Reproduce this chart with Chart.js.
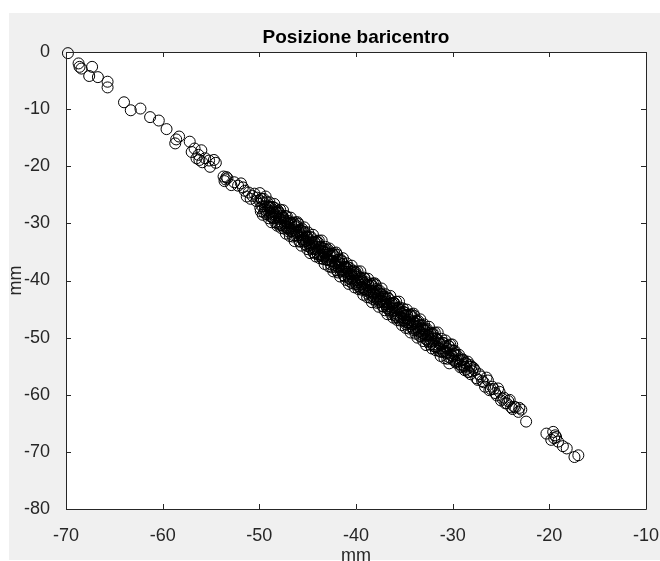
<!DOCTYPE html>
<html>
<head>
<meta charset="utf-8">
<script src="https://cdn.jsdelivr.net/npm/chart.js@4"></script>
<style>
  html, body { margin: 0; padding: 0; background: #ffffff; }
  #wrap { width: 660px; height: 561px; }
</style>
</head>
<body>
<div id="wrap"><canvas id="baricentro" width="660" height="561"></canvas></div>
<script>
// tick values
const xTicks = [-70, -60, -50, -40, -30, -20, -10];
const yTicks = [0, -10, -20, -30, -40, -50, -60, -70, -80];

// sparse start of the trajectory
const headX = [-69.8, -68.7, -68.6, -68.4, -67.3, -67.6, -66.7, -65.7, -65.7, -64.0, -63.3, -62.3, -61.3, -60.4, -59.6,
  -58.6, -58.7, -58.3, -57.2, -57.0, -56.7, -56.3, -56.0, -56.5, -55.6, -55.2, -54.7, -55.1, -54.5, -56.2, -55.9,
  -53.7, -53.5, -53.4, -53.6, -53.3,
  -52.9, -52.6, -52.2, -51.9, -51.7, -51.5, -51.3, -51.1, -50.9, -50.7, -50.5, -50.3, -50.2];
const headY = [-0.2, -2.0, -2.6, -2.9, -2.6, -4.2, -4.4, -5.2, -6.2, -8.8, -10.2, -9.9, -11.4, -12.0, -13.5,
  -15.3, -16.0, -14.8, -15.7, -17.5, -16.9, -18.0, -17.2, -18.6, -18.6, -19.0, -18.9, -20.1, -19.4, -18.9, -19.3,
  -21.8, -22.3, -21.9, -22.6, -22.1,
  -23.3, -22.8, -23.4, -23.0, -23.7, -24.3, -25.3, -24.6, -25.7, -25.2, -24.8, -26.1, -25.5];

// dense central band, first pass
const bandX = [
  -50.0, -49.9, -49.8, -49.7, -49.6, -49.5, -49.4, -49.3, -49.2, -49.1,
  -49.0, -48.9, -48.8, -48.7, -48.6, -48.5, -48.4, -48.3, -48.2, -48.1,
  -48.0, -47.9, -47.8, -47.7, -47.6, -47.5, -47.4, -47.3, -47.2, -47.1,
  -47.0, -46.9, -46.8, -46.7, -46.6, -46.5, -46.4, -46.3, -46.2, -46.1,
  -46.0, -45.9, -45.8, -45.7, -45.6, -45.5, -45.4, -45.3, -45.2, -45.1,
  -45.0, -44.9, -44.8, -44.7, -44.6, -44.5, -44.4, -44.3, -44.2, -44.1,
  -44.0, -43.9, -43.8, -43.7, -43.6, -43.5, -43.4, -43.3, -43.2, -43.1,
  -43.0, -42.9, -42.8, -42.7, -42.6, -42.5, -42.4, -42.3, -42.2, -42.1,
  -42.0, -41.9, -41.8, -41.7, -41.6, -41.5, -41.4, -41.3, -41.2, -41.1,
  -41.0, -40.9, -40.8, -40.7, -40.6, -40.5, -40.4, -40.3, -40.2, -40.1,
  -40.0, -39.9, -39.8, -39.7, -39.6, -39.5, -39.4, -39.3, -39.2, -39.1,
  -39.0, -38.9, -38.8, -38.7, -38.6, -38.5, -38.4, -38.3, -38.2, -38.1,
  -38.0, -37.9, -37.8, -37.7, -37.6, -37.5, -37.4, -37.3, -37.2, -37.1,
  -37.0, -36.9, -36.8, -36.7, -36.6, -36.5, -36.4, -36.3, -36.2, -36.1,
  -36.0, -35.9, -35.8, -35.7, -35.6, -35.5, -35.4, -35.3, -35.2, -35.1,
  -35.0, -34.9, -34.8, -34.7, -34.6, -34.5, -34.4, -34.3, -34.2, -34.1,
  -34.0, -33.9, -33.8, -33.7, -33.6, -33.5, -33.4, -33.3, -33.2, -33.1,
  -33.0, -32.9, -32.8, -32.7, -32.6, -32.5, -32.4, -32.3, -32.2, -32.1,
  -32.0];
const bandY = [
  -26.0, -27.3, -25.7, -27.0, -26.3, -28.1, -27.0, -27.8, -26.3, -27.7,
  -27.2, -28.7, -27.2, -28.4, -27.9, -29.1, -27.3, -28.6, -28.2, -30.1,
  -28.9, -28.2, -29.7, -29.0, -30.4, -29.0, -29.9, -28.7, -30.7, -30.0,
  -31.4, -30.0, -30.9, -29.9, -31.4, -30.8, -32.1, -30.6, -31.5, -30.5,
  -32.1, -31.5, -33.1, -31.3, -32.5, -32.3, -33.2, -31.5, -33.1, -32.3,
  -34.0, -32.9, -33.8, -32.5, -33.7, -33.2, -35.1, -33.3, -34.5, -34.1,
  -35.2, -33.4, -34.9, -34.2, -35.5, -34.8, -36.2, -34.4, -35.5, -35.1,
  -36.4, -34.6, -36.3, -35.7, -37.2, -35.7, -36.6, -35.7, -37.3, -36.9,
  -38.2, -36.4, -37.6, -37.0, -38.4, -36.6, -38.3, -37.7, -39.2, -37.6,
  -38.5, -37.6, -39.3, -38.4, -40.2, -38.5, -39.2, -38.3, -40.0, -39.3,
  -40.6, -39.1, -40.3, -40.0, -41.3, -39.5, -40.7, -40.1, -41.5, -39.7,
  -41.5, -40.8, -42.3, -40.8, -41.8, -40.8, -42.5, -41.9, -43.3, -41.8,
  -42.7, -41.5, -43.2, -42.5, -43.8, -42.3, -43.3, -42.8, -44.5, -42.8,
  -44.2, -43.7, -44.8, -43.0, -44.5, -44.0, -45.5, -44.0, -44.9, -44.0,
  -45.7, -44.9, -46.5, -44.9, -46.0, -44.7, -46.4, -45.8, -47.0, -45.5,
  -46.6, -46.1, -47.7, -46.0, -47.4, -46.9, -48.0, -46.1, -47.7, -47.1,
  -48.7, -47.5, -48.6, -47.2, -48.4, -47.8, -49.7, -48.4, -49.5, -47.9,
  -49.4, -48.8, -50.2, -48.7, -49.7, -49.4, -50.8, -49.2, -50.6, -50.2,
  -51.2];

// dense central band, second pass (wider spread)
const band2X = [
  -49.95, -49.85, -49.75, -49.65, -49.55, -49.45, -49.35, -49.25, -49.15, -49.05,
  -48.95, -48.85, -48.75, -48.65, -48.55, -48.45, -48.35, -48.25, -48.15, -48.05,
  -47.95, -47.85, -47.75, -47.65, -47.55, -47.45, -47.35, -47.25, -47.15, -47.05,
  -46.95, -46.85, -46.75, -46.65, -46.55, -46.45, -46.35, -46.25, -46.15, -46.05,
  -45.95, -45.85, -45.75, -45.65, -45.55, -45.45, -45.35, -45.25, -45.15, -45.05,
  -44.95, -44.85, -44.75, -44.65, -44.55, -44.45, -44.35, -44.25, -44.15, -44.05,
  -43.95, -43.85, -43.75, -43.65, -43.55, -43.45, -43.35, -43.25, -43.15, -43.05,
  -42.95, -42.85, -42.75, -42.65, -42.55, -42.45, -42.35, -42.25, -42.15, -42.05,
  -41.95, -41.85, -41.75, -41.65, -41.55, -41.45, -41.35, -41.25, -41.15, -41.05,
  -40.95, -40.85, -40.75, -40.65, -40.55, -40.45, -40.35, -40.25, -40.15, -40.05,
  -39.95, -39.85, -39.75, -39.65, -39.55, -39.45, -39.35, -39.25, -39.15, -39.05,
  -38.95, -38.85, -38.75, -38.65, -38.55, -38.45, -38.35, -38.25, -38.15, -38.05,
  -37.95, -37.85, -37.75, -37.65, -37.55, -37.45, -37.35, -37.25, -37.15, -37.05,
  -36.95, -36.85, -36.75, -36.65, -36.55, -36.45, -36.35, -36.25, -36.15, -36.05,
  -35.95, -35.85, -35.75, -35.65, -35.55, -35.45, -35.35, -35.25, -35.15, -35.05,
  -34.95, -34.85, -34.75, -34.65, -34.55, -34.45, -34.35, -34.25, -34.15, -34.05,
  -33.95, -33.85, -33.75, -33.65, -33.55, -33.45, -33.35, -33.25, -33.15, -33.05,
  -32.95, -32.85, -32.75, -32.65, -32.55, -32.45, -32.35, -32.25, -32.15, -32.05,
  -31.95, -31.85, -31.75, -31.65, -31.55, -31.45, -31.35, -31.25, -31.15, -31.05,
  -30.95, -30.85, -30.75, -30.65, -30.55, -30.45, -30.35, -30.25, -30.15, -30.05,
  -29.95, -29.85, -29.75, -29.65, -29.55, -29.45, -29.35, -29.25, -29.15, -29.05,
  -28.95, -28.85, -28.75, -28.65, -28.55, -28.45, -28.35, -28.25, -28.15, -28.05];
const band2Y = [
  -24.7, -27.9, -25.7, -28.5, -25.7, -27.6, -25.3, -28.4, -27.0, -29.1,
  -26.3, -28.1, -29.8, -27.1, -29.1, -26.6, -29.8, -28.0, -30.4, -27.8,
  -30.0, -27.6, -30.8, -28.7, -27.7, -30.9, -29.6, -31.8, -28.8, -30.9,
  -29.6, -32.2, -29.0, -31.3, -32.3, -29.9, -33.1, -29.8, -31.6, -29.8,
  -30.1, -33.2, -31.1, -33.9, -31.0, -33.0, -30.7, -33.7, -32.4, -34.5,
  -31.6, -33.5, -35.2, -32.4, -34.5, -32.0, -35.1, -33.4, -35.8, -33.1,
  -35.4, -33.0, -36.1, -34.1, -33.0, -36.2, -35.0, -37.1, -34.1, -36.3,
  -34.9, -37.5, -34.4, -36.6, -37.7, -35.3, -38.4, -35.2, -37.0, -35.1,
  -35.5, -38.6, -36.4, -39.3, -36.4, -38.3, -36.1, -39.1, -37.7, -39.9,
  -37.0, -38.8, -40.6, -37.8, -39.8, -37.4, -40.5, -38.7, -41.2, -38.5,
  -40.7, -38.4, -41.5, -39.4, -38.4, -41.6, -40.3, -42.5, -39.5, -41.6,
  -40.3, -42.9, -39.7, -42.0, -43.0, -40.6, -43.8, -40.5, -42.3, -40.5,
  -40.8, -43.9, -41.8, -44.6, -41.8, -43.7, -41.4, -44.5, -43.1, -45.2,
  -42.4, -44.2, -45.9, -43.2, -45.2, -42.7, -45.9, -44.1, -46.5, -43.9,
  -46.1, -43.7, -46.9, -44.8, -43.7, -47.0, -45.7, -47.8, -44.9, -47.0,
  -45.6, -48.3, -45.1, -47.3, -48.4, -46.0, -49.1, -45.9, -47.7, -45.8,
  -46.2, -49.3, -47.1, -50.0, -47.1, -49.0, -46.8, -49.8, -48.4, -50.6,
  -47.7, -49.5, -51.3, -48.5, -50.6, -48.1, -51.2, -49.5, -51.9, -49.2,
  -51.5, -49.1, -52.2, -50.2, -49.1, -52.3, -51.1, -53.2, -50.2, -52.4,
  -51.0, -53.6, -50.5, -52.7, -53.7, -51.4, -54.5, -51.2, -53.1, -51.2,
  -52.3, -54.0, -52.9, -54.4, -53.1, -54.1, -53.0, -54.7, -54.0, -55.1,
  -53.8, -54.8, -55.7, -54.4, -55.5, -54.2, -56.0, -55.1, -56.4, -55.1];

// dense central band, third pass (core)
const band3X = [
  -48.93, -48.73, -48.53, -48.33, -48.13, -47.93, -47.73, -47.53, -47.33, -47.13,
  -46.93, -46.73, -46.53, -46.33, -46.13, -45.93, -45.73, -45.53, -45.33, -45.13,
  -44.93, -44.73, -44.53, -44.33, -44.13, -43.93, -43.73, -43.53, -43.33, -43.13,
  -42.93, -42.73, -42.53, -42.33, -42.13, -41.93, -41.73, -41.53, -41.33, -41.13,
  -40.93, -40.73, -40.53, -40.33, -40.13, -39.93, -39.73, -39.53, -39.33, -39.13,
  -38.93, -38.73, -38.53, -38.33, -38.13, -37.93, -37.73, -37.53, -37.33, -37.13,
  -36.93, -36.73, -36.53, -36.33, -36.13, -35.93, -35.73, -35.53, -35.33, -35.13,
  -34.93, -34.73, -34.53, -34.33, -34.13, -33.93, -33.73, -33.53, -33.33, -33.13,
  -32.93, -32.73, -32.53, -32.33, -32.13, -31.93, -31.73, -31.53, -31.33, -31.13,
  -30.93, -30.73, -30.53, -30.33, -30.13, -29.93];
const band3Y = [
  -27.2, -28.9, -28.1, -28.9, -27.9, -29.2, -30.3, -29.0, -30.4, -29.8,
  -31.1, -30.0, -31.1, -30.2, -32.2, -31.3, -32.0, -32.8, -31.7, -33.1,
  -32.6, -34.2, -33.5, -34.3, -33.2, -34.6, -35.7, -34.3, -35.8, -35.2,
  -36.4, -35.4, -36.5, -35.5, -37.6, -36.7, -37.3, -38.1, -37.1, -38.4,
  -37.9, -39.6, -38.9, -39.6, -38.6, -40.0, -41.0, -39.7, -41.2, -40.5,
  -41.8, -40.8, -41.8, -40.9, -43.0, -42.0, -42.7, -43.5, -42.4, -43.8,
  -43.3, -44.9, -44.2, -45.0, -43.9, -45.3, -46.4, -45.1, -46.5, -45.9,
  -47.2, -46.1, -47.2, -46.3, -48.3, -47.4, -48.1, -48.8, -47.8, -49.2,
  -48.6, -50.3, -49.6, -50.3, -49.3, -50.7, -51.7, -50.4, -51.9, -51.2,
  -52.5, -51.5, -52.6, -51.6, -53.7, -52.8];

// thinner end of the trajectory
const tailX = [-31.8, -31.6, -31.4, -31.2, -31.0, -30.8, -30.6, -30.4, -30.2, -30.0,
  -29.8, -29.6, -29.4, -29.2, -29.0, -28.8, -28.6, -28.4, -28.2, -28.0,
  -27.7, -27.4, -27.1, -26.8, -26.5, -26.2, -25.9, -25.6, -25.3, -25.0,
  -24.7, -24.4, -24.1, -23.8, -23.5, -23.2, -22.9, -23.1, -22.4,
  -27.85, -27.55, -27.25, -26.95, -26.65, -26.35, -26.05, -25.75, -25.45, -25.15,
  -24.85, -24.55, -24.25, -23.95, -23.65,
  -20.3, -19.6, -19.4, -19.8, -19.5, -19.1, -19.3, -18.6, -18.2, -17.4, -17.0];
const tailY = [-50.1, -51.6, -51.0, -52.5, -50.9, -52.3, -51.9, -53.4, -52.2, -53.3,
  -52.3, -54.2, -53.8, -55.2, -53.9, -55.1, -54.6, -56.0, -54.8, -55.9,
  -55.7, -57.4, -56.8, -57.8, -57.0, -59.2, -58.6, -59.7, -58.9, -61.0,
  -60.5, -61.5, -60.9, -62.5, -62.2, -63.0, -62.6, -62.3, -64.7,
  -55.3, -57.1, -56.4, -57.6, -58.6, -57.5, -59.0, -59.0, -60.1, -59.5,
  -60.7, -61.5, -61.1, -62.2, -62.1,
  -66.8, -66.5, -67.1, -67.9, -67.6, -68.2, -67.4, -69.0, -69.4, -70.9, -70.6];

const axisColor = '#262626';
const fontFamily = '"Liberation Sans", Arial, Helvetica, sans-serif';

function toPoints(xs, ys) {
    return xs.map((x, i) => ({ x: x, y: ys[i] }));
}

const points = [].concat(
    toPoints(headX, headY),
    toPoints(bandX, bandY),
    toPoints(band2X, band2Y),
    toPoints(band3X, band3Y),
    toPoints(tailX, tailY)
);

// grey figure background + white axes area
const backgroundPlugin = {
    id: 'figureBackground',
    beforeDraw(chart) {
        const ctx = chart.ctx;
        const a = chart.chartArea;
        ctx.save();
        ctx.fillStyle = '#ffffff';
        ctx.fillRect(0, 0, chart.width, chart.height);
        ctx.fillStyle = '#f0f0f0';
        ctx.fillRect(9, 13, chart.width - 9, chart.height - 14);
        ctx.fillStyle = '#ffffff';
        ctx.fillRect(a.left, a.top, a.right - a.left, a.bottom - a.top);
        ctx.restore();
    }
};

// MATLAB style box with inward ticks
const boxPlugin = {
    id: 'axesBox',
    afterDraw(chart) {
        const ctx = chart.ctx;
        const a = chart.chartArea;
        const xs = chart.scales.x;
        const ys = chart.scales.y;
        const len = 5;
        ctx.save();
        ctx.strokeStyle = axisColor;
        ctx.lineWidth = 1;
        ctx.beginPath();
        ctx.rect(Math.round(a.left) + 0.5, Math.round(a.top) + 0.5,
            Math.round(a.right - a.left), Math.round(a.bottom - a.top));
        xTicks.forEach(v => {
            const px = Math.round(xs.getPixelForValue(v)) + 0.5;
            ctx.moveTo(px, a.bottom);
            ctx.lineTo(px, a.bottom - len);
            ctx.moveTo(px, a.top);
            ctx.lineTo(px, a.top + len);
        });
        yTicks.forEach(v => {
            const py = Math.round(ys.getPixelForValue(v)) + 0.5;
            ctx.moveTo(a.left, py);
            ctx.lineTo(a.left + len, py);
            ctx.moveTo(a.right, py);
            ctx.lineTo(a.right - len, py);
        });
        ctx.stroke();
        ctx.restore();
    }
};

new Chart(document.getElementById('baricentro'), {
    type: 'scatter',
    data: {
        datasets: [{
            label: 'baricentro',
            data: points,
            pointStyle: 'circle',
            pointRadius: 5.5,
            pointHoverRadius: 5.5,
            pointBorderWidth: 1,
            borderColor: '#000000',
            backgroundColor: 'rgba(0,0,0,0)',
            clip: false
        }]
    },
    options: {
        responsive: false,
        animation: false,
        events: [],
        layout: { padding: 0 },
        plugins: {
            legend: { display: false },
            tooltip: { enabled: false },
            title: {
                display: true,
                text: 'Posizione baricentro',
                fullSize: false,
                color: '#000000',
                font: { family: fontFamily, size: 19, weight: 'bold', lineHeight: 1.2 },
                padding: { top: 26, bottom: 3.2 }
            }
        },
        scales: {
            x: {
                type: 'linear',
                min: -70,
                max: -10,
                afterBuildTicks(scale) {
                    scale.ticks = xTicks.map(v => ({ value: v }));
                },
                afterFit(scale) {
                    scale.height = 52;
                    scale.paddingLeft = 0;
                    scale.paddingRight = 14;
                },
                grid: { display: false },
                border: { display: false },
                ticks: {
                    color: axisColor,
                    padding: 8,
                    maxRotation: 0,
                    font: { family: fontFamily, size: 18 }
                },
                title: {
                    display: true,
                    text: 'mm',
                    color: axisColor,
                    font: { family: fontFamily, size: 18, lineHeight: 0.5 },
                    padding: 0
                }
            },
            y: {
                type: 'linear',
                min: -80,
                max: 0,
                afterBuildTicks(scale) {
                    scale.ticks = yTicks.map(v => ({ value: v }));
                },
                afterFit(scale) {
                    scale.width = 66;
                    scale.paddingTop = 0;
                    scale.paddingBottom = 0;
                },
                grid: { display: false },
                border: { display: false },
                ticks: {
                    color: axisColor,
                    padding: 8,
                    font: { family: fontFamily, size: 18 }
                },
                title: {
                    display: true,
                    text: 'mm',
                    color: axisColor,
                    font: { family: fontFamily, size: 18, lineHeight: 1.2 },
                    padding: { top: 5, bottom: 0 }
                }
            }
        }
    },
    plugins: [backgroundPlugin, boxPlugin]
});
</script>
</body>
</html>
